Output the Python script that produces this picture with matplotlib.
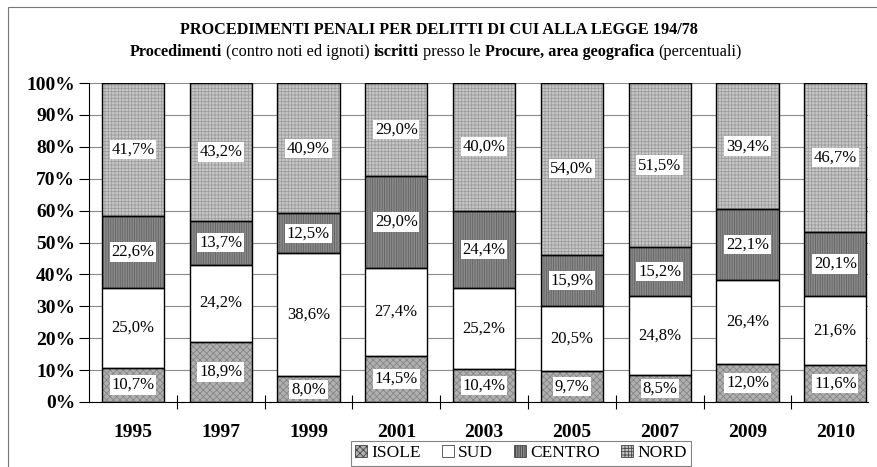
import matplotlib
matplotlib.use("Agg")
import matplotlib.pyplot as plt
import numpy as np
from matplotlib.patches import Patch, Rectangle

years = ["1995", "1997", "1999", "2001", "2003", "2005", "2007", "2009", "2010"]
isole = [10.7, 18.9, 8.0, 14.5, 10.4, 9.7, 8.5, 12.0, 11.6]
sud = [25.0, 24.2, 38.6, 27.4, 25.2, 20.5, 24.8, 26.4, 21.6]
centro = [22.6, 13.7, 12.5, 29.0, 24.4, 15.9, 15.2, 22.1, 20.1]
nord = [41.7, 43.2, 40.9, 29.0, 40.0, 54.0, 51.5, 39.4, 46.7]
series_names = ["ISOLE", "SUD", "CENTRO", "NORD"]
yticks = [0, 10, 20, 30, 40, 50, 60, 70, 80, 90, 100]

title = "PROCEDIMENTI PENALI PER DELITTI DI CUI ALLA LEGGE 194/78"
subtitle_parts = [("Procedimenti", "bold"), ("(contro noti ed ignoti)", "normal"),
                  ("iscritti", "bold"), ("presso le", "normal"),
                  ("Procure, area geografica", "bold"), ("(percentuali)", "normal")]

styles = {
    "ISOLE": dict(face="#b0b0b0", hatch="xxxxx", hcol="#858585"),
    "SUD": dict(face="#ffffff", hatch=None, hcol=None),
    "CENTRO": dict(face="#8a8a8a", hatch="|||||||", hcol="#626262"),
    "NORD": dict(face="#c8c8c8", hatch="+++++", hcol="#9c9c9c"),
}

plt.rcParams["font.family"] = ["Liberation Serif", "DejaVu Serif"]
plt.rcParams["hatch.linewidth"] = 0.6

W, H = 877, 467
fig = plt.figure(figsize=(W / 100, H / 100), dpi=100)
fig.patch.set_facecolor("white")

left_px, right_px, top_px, bot_px = 89, 868, 83, 402
ax = fig.add_axes([left_px / W, (H - bot_px) / H, (right_px - left_px) / W, (bot_px - top_px) / H])

pitch = 87.8
x = np.arange(len(years))
width = 0.71
data = [isole, sud, centro, nord]
bottom = np.zeros(len(years))
for name, vals in zip(series_names, data):
    st = styles[name]
    vals = np.array(vals)
    ax.bar(x, vals, width, bottom=bottom, color=st["face"], edgecolor="none", zorder=2)
    if st["hatch"]:
        ax.bar(x, vals, width, bottom=bottom, fill=False, hatch=st["hatch"],
               edgecolor=st["hcol"], linewidth=0, zorder=2.5)
    ax.bar(x, vals, width, bottom=bottom, fill=False, edgecolor="black", linewidth=1.0, zorder=3)
    for xi, b, v in zip(x, bottom, vals):
        ax.text(xi, b + v / 2, f"{v:.1f}%".replace(".", ","), ha="center", va="center",
                fontsize=12, zorder=4,
                bbox=dict(facecolor="white", edgecolor="none", pad=1.2))
    bottom = bottom + vals

ax.set_xlim(-0.5, -0.5 + (right_px - left_px) / pitch)
ax.set_ylim(0, 100)
ax.set_yticks(yticks)
ax.set_yticklabels([f"{t}%" for t in yticks], fontsize=14, fontweight="bold")
ax.yaxis.grid(True, color="#8a8a8a", linewidth=0.8, zorder=0)
ax.set_axisbelow(True)
ax.tick_params(axis="y", direction="out", length=7, width=0.8, pad=3)

ax.set_xticks(x)
ax.set_xticklabels(years, fontsize=14, fontweight="bold")
ax.tick_params(axis="x", length=0, pad=16)
ax.set_xticks(np.arange(len(years) - 1) + 0.5, minor=True)
ax.tick_params(axis="x", which="minor", direction="inout", length=10, width=0.8)

for s in ["top", "right"]:
    ax.spines[s].set_visible(False)
ax.spines["left"].set_linewidth(0.8)
ax.spines["bottom"].set_linewidth(0.8)

# outer chart frame
fig.add_artist(Rectangle((8 / W, -0.05), 2.0, (H - 7) / H + 0.05, transform=fig.transFigure,
                         fill=False, edgecolor="#777777", linewidth=0.8))

# titles
fig.text(0.5 * (183 + 695) / W, 1 - 30 / H, title, ha="center", va="center",
         fontsize=11.7, fontweight="bold")

texts = []
for s, wgt in subtitle_parts:
    texts.append(fig.text(0, 1 - 52 / H, s, ha="left", va="center", fontsize=11.7, fontweight=wgt))
fig.canvas.draw()
r = fig.canvas.get_renderer()
widths = [t.get_window_extent(r).width for t in texts]
gap = 0.25 * 11.7 * 100 / 72
total = sum(widths) + gap * (len(widths) - 1)
cx = 0.5 * (133 + 738)
xpos = cx - total / 2
for t, w in zip(texts, widths):
    t.set_x(xpos / W)
    xpos += w + gap

handles = []
for name in series_names:
    st = styles[name]
    handles.append(Patch(facecolor=st["face"], edgecolor="#444444", hatch=st["hatch"], linewidth=0.6,
                         label=name))
leg = fig.legend(handles=handles, loc="upper center", bbox_to_anchor=(521 / W, 1 - 441 / H),
                 bbox_transform=fig.transFigure, borderaxespad=0,
                 ncol=4, frameon=True, fancybox=False, edgecolor="#666666", fontsize=12.5,
                 handlelength=0.7, handleheight=0.7, handletextpad=0.25, columnspacing=1.2,
                 borderpad=0.25)
leg.get_frame().set_linewidth(0.8)

fig.savefig("out.png", dpi=100)
